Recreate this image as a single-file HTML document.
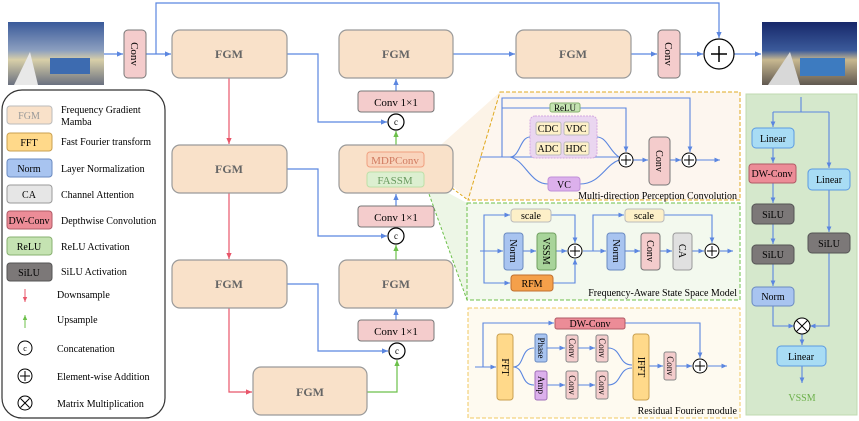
<!DOCTYPE html>
<html><head><meta charset="utf-8"><style>
html,body{margin:0;padding:0;background:#fff;}
svg{display:block;font-family:"Liberation Serif",serif;}
</style></head><body>
<svg width="859" height="421" viewBox="0 0 859 421" xmlns="http://www.w3.org/2000/svg">
<defs>
<marker id="ab" markerWidth="6" markerHeight="6" refX="5" refY="3" orient="auto"><path d="M0,0.8 L5,3 L0,5.2z" fill="#5b86e0"/></marker>
<marker id="ar" markerWidth="6" markerHeight="6" refX="5" refY="3" orient="auto"><path d="M0,0.8 L5,3 L0,5.2z" fill="#e8566a"/></marker>
<marker id="ag" markerWidth="6" markerHeight="6" refX="5" refY="3" orient="auto"><path d="M0,0.8 L5,3 L0,5.2z" fill="#6cc04a"/></marker>
<linearGradient id="inimg" x1="0" y1="0" x2="0" y2="1"><stop offset="0" stop-color="#3a5a9a"/><stop offset="0.45" stop-color="#8c9fbf"/><stop offset="0.6" stop-color="#d8cfa8"/><stop offset="1" stop-color="#6a7080"/></linearGradient>
<linearGradient id="outimg" x1="0" y1="0" x2="0" y2="1"><stop offset="0" stop-color="#17286a"/><stop offset="0.45" stop-color="#3b5a9a"/><stop offset="0.6" stop-color="#c8b890"/><stop offset="1" stop-color="#605850"/></linearGradient>
</defs>

<!-- wedges -->
<polygon points="424,160 500,92 500,200 468,200" fill="#fbeedd" opacity="0.7"/>
<polygon points="424,180 467,203 467,300" fill="#e6f2dc" opacity="0.7"/>
<line x1="424" y1="167" x2="468" y2="200" stroke="#e0a920" stroke-width="1" stroke-dasharray="3,2"/>
<line x1="424" y1="180" x2="467" y2="300" stroke="#6cc04a" stroke-width="1" stroke-dasharray="3,2"/>

<!-- images -->
<rect x="8" y="22" width="96" height="63" fill="url(#inimg)"/>
<polygon points="14,85 30,52 38,85" fill="#e8e8e8"/>
<rect x="50" y="58" width="40" height="16" fill="#3d6bb0"/>
<rect x="762" y="22" width="95" height="63" fill="url(#outimg)"/>
<polygon points="768,85 790,52 800,85" fill="#d8d8d8"/>
<rect x="800" y="58" width="45" height="18" fill="#3d7bc0"/>

<!-- main blue lines -->
<g stroke="#5b86e0" stroke-width="1.2" fill="none">
<line x1="104" y1="54" x2="123" y2="54" marker-end="url(#ab)"/>
<line x1="146" y1="54" x2="171" y2="54" marker-end="url(#ab)"/>
<polyline points="156,54 156,3 719,3 719,38" marker-end="url(#ab)"/>
<line x1="453" y1="54" x2="515" y2="54" marker-end="url(#ab)"/>
<line x1="631" y1="54" x2="657" y2="54" marker-end="url(#ab)"/>
<line x1="680" y1="54" x2="703" y2="54" marker-end="url(#ab)"/>
<line x1="734" y1="54" x2="761" y2="54" marker-end="url(#ab)"/>
<polyline points="287,54 318,54 318,122 387,122" marker-end="url(#ab)"/>
<polyline points="287,169 318,169 318,236 387,236" marker-end="url(#ab)"/>
<polyline points="287,284 318,284 318,351 388,351" marker-end="url(#ab)"/>
<line x1="396" y1="91" x2="396" y2="79" marker-end="url(#ab)"/>
<line x1="396" y1="206" x2="396" y2="194" marker-end="url(#ab)"/>
<line x1="396" y1="320" x2="396" y2="309" marker-end="url(#ab)"/>
</g>
<g stroke="#e8566a" stroke-width="1.2" fill="none">
<line x1="229" y1="78" x2="229" y2="144" marker-end="url(#ar)"/>
<line x1="229" y1="193" x2="229" y2="259" marker-end="url(#ar)"/>
<polyline points="229,308 229,392 252,392" marker-end="url(#ar)"/>
</g>
<g stroke="#6cc04a" stroke-width="1.2" fill="none">
<line x1="396" y1="145" x2="396" y2="131" marker-end="url(#ag)"/>
<line x1="396" y1="260" x2="396" y2="245" marker-end="url(#ag)"/>
<polyline points="367,392 397,392 397,360" marker-end="url(#ag)"/>
</g>

<!-- main blocks -->
<g stroke="#9a9a9a" stroke-width="1.2" fill="#f9e1c9">
<rect x="172" y="30" width="115" height="48" rx="8"/>
<rect x="339" y="30" width="114" height="48" rx="8"/>
<rect x="516" y="30" width="115" height="48" rx="8"/>
<rect x="172" y="145" width="115" height="48" rx="8"/>
<rect x="339" y="145" width="114" height="48" rx="8"/>
<rect x="172" y="260" width="115" height="48" rx="8"/>
<rect x="339" y="260" width="114" height="48" rx="8"/>
<rect x="253" y="367" width="114" height="48" rx="8"/>
</g>
<g font-size="12" fill="#666" text-anchor="middle" font-weight="bold">
<text x="229" y="58">FGM</text><text x="396" y="58">FGM</text><text x="573" y="58">FGM</text>
<text x="229" y="173">FGM</text><text x="229" y="288">FGM</text><text x="396" y="288">FGM</text><text x="310" y="396">FGM</text>
</g>
<rect x="367" y="152" width="57" height="15" rx="3" fill="#f9d4bc" stroke="#f0a080"/>
<text x="395" y="164" font-size="11" fill="#d07b60" text-anchor="middle">MDPConv</text>
<rect x="367" y="172" width="57" height="15" rx="3" fill="#dcefd0" stroke="#bde0a8"/>
<text x="395" y="184" font-size="11" fill="#6a9a60" text-anchor="middle">FASSM</text>

<g stroke="#777" stroke-width="1" fill="#f4cccc">
<rect x="124" y="30" width="22" height="48" rx="4"/>
<rect x="658" y="30" width="22" height="48" rx="4"/>
<rect x="358" y="91" width="76" height="21" rx="3"/>
<rect x="358" y="206" width="76" height="21" rx="3"/>
<rect x="358" y="320" width="76" height="21" rx="3"/>
</g>
<text transform="translate(131,54) rotate(90)" font-size="11" text-anchor="middle">Conv</text>
<text transform="translate(665,54) rotate(90)" font-size="11" text-anchor="middle">Conv</text>
<g font-size="11" text-anchor="middle"><text x="396" y="106">Conv 1×1</text><text x="396" y="221">Conv 1×1</text><text x="396" y="335">Conv 1×1</text></g>

<g stroke="#000" stroke-width="1.2" fill="#fff">
<circle cx="396" cy="122" r="8"/><circle cx="396" cy="236" r="8"/><circle cx="397" cy="351" r="8"/>
<circle cx="719" cy="54" r="15"/>
</g>
<g font-size="9" text-anchor="middle"><text x="396" y="125">c</text><text x="396" y="239">c</text><text x="397" y="354">c</text></g>
<path d="M711,54 H727 M719,46 V62" stroke="#000" stroke-width="1.5"/>

<!-- legend -->
<rect x="2" y="90" width="163" height="328" rx="20" fill="#fff" stroke="#333" stroke-width="1.2"/>
<g stroke-width="1">
<rect x="7" y="106" width="45" height="18" rx="3" fill="#f9e1c9" stroke="#bbb"/>
<rect x="7" y="133" width="45" height="18" rx="3" fill="#ffd98a" stroke="#c9a050"/>
<rect x="7" y="159" width="45" height="18" rx="3" fill="#a8c4f0" stroke="#6a8ac0"/>
<rect x="7" y="185" width="45" height="18" rx="3" fill="#e6e6e6" stroke="#999"/>
<rect x="7" y="211" width="45" height="18" rx="3" fill="#ec8c97" stroke="#b05a66"/>
<rect x="7" y="237" width="45" height="18" rx="3" fill="#c5e3b2" stroke="#88b070"/>
<rect x="7" y="263" width="45" height="18" rx="3" fill="#7c7878" stroke="#555"/>
</g>
<g font-size="10" text-anchor="middle">
<text x="29" y="119" fill="#999">FGM</text><text x="29" y="146">FFT</text><text x="29" y="172">Norm</text><text x="29" y="198">CA</text>
<text x="29" y="224">DW-Conv</text><text x="29" y="250">ReLU</text><text x="29" y="276">SiLU</text>
</g>
<g font-size="10">
<text x="61" y="113">Frequency Gradient</text><text x="61" y="125">Mamba</text>
<text x="61" y="145">Fast Fourier transform</text><text x="61" y="172">Layer Normalization</text>
<text x="61" y="198">Channel Attention</text><text x="61" y="224">Depthwise Convolution</text>
<text x="61" y="250">ReLU Activation</text><text x="61" y="275">SiLU Activation</text>
<text x="57" y="298">Downsample</text><text x="57" y="323">Upsample</text><text x="57" y="352">Concatenation</text>
<text x="57" y="380">Element-wise Addition</text><text x="57" y="407">Matrix Multiplication</text>
</g>
<line x1="25" y1="289" x2="25" y2="302" stroke="#e8566a" marker-end="url(#ar)"/>
<line x1="25" y1="328" x2="25" y2="315" stroke="#6cc04a" marker-end="url(#ag)"/>
<g stroke="#000" fill="#fff" stroke-width="1"><circle cx="25" cy="348" r="7"/><circle cx="25" cy="376" r="7"/><circle cx="25" cy="403" r="7"/></g>
<text x="25" y="351" font-size="8" text-anchor="middle">c</text>
<path d="M20,376 H30 M25,371 V381 M20.5,398.5 L29.5,407.5 M29.5,398.5 L20.5,407.5" stroke="#000"/>

<!-- MPC panel -->
<polygon points="500,92 740,92 740,200 468,200" fill="#fdf6ef" stroke="#e0a920" stroke-dasharray="4,2"/>
<g stroke="#5b86e0" stroke-width="1.1" fill="none">
<line x1="480" y1="157" x2="619" y2="157"/>
<polyline points="502,157 502,98 690,98 690,152" marker-end="url(#ab)"/>
<polyline points="502,108 626,108 626,152" marker-end="url(#ab)"/>
<path d="M510,157 C520,157 520,137 530,137"/>
<path d="M597,137 C607,137 610,152 619,157"/>
<path d="M510,157 C525,160 530,184 548,184"/>
<path d="M580,184 C600,184 605,165 619,160"/>
<line x1="633" y1="160" x2="648" y2="160" marker-end="url(#ab)"/>
<line x1="670" y1="160" x2="681" y2="160" marker-end="url(#ab)"/>
<line x1="696" y1="160" x2="720" y2="160" marker-end="url(#ab)"/>
</g>
<rect x="550" y="103" width="30" height="9" rx="2" fill="#c5e3b2" stroke="#88b070"/>
<text x="565" y="111" font-size="9" text-anchor="middle">ReLU</text>
<rect x="530" y="116" width="67" height="42" rx="5" fill="#ead6f0" stroke="#d4a8e0" stroke-dasharray="2,1"/>
<g fill="#fdf0c8" stroke="#bbb"><rect x="536" y="122" width="25" height="13" rx="2"/><rect x="564" y="122" width="25" height="13" rx="2"/><rect x="536" y="142" width="25" height="13" rx="2"/><rect x="564" y="142" width="25" height="13" rx="2"/></g>
<g font-size="10" text-anchor="middle"><text x="548" y="132">CDC</text><text x="576" y="132">VDC</text><text x="548" y="152">ADC</text><text x="576" y="152">HDC</text></g>
<rect x="548" y="177" width="32" height="14" rx="3" fill="#dcb0ec" stroke="#c090d8"/>
<text x="564" y="188" font-size="10" text-anchor="middle">VC</text>
<rect x="649" y="137" width="21" height="48" rx="4" fill="#f4cccc" stroke="#777"/>
<text transform="translate(656,161) rotate(90)" font-size="10" text-anchor="middle">Conv</text>
<g fill="#fff" stroke="#000"><circle cx="626" cy="160" r="7"/><circle cx="689" cy="160" r="7"/></g>
<path d="M621,160 H631 M626,155 V165 M684,160 H694 M689,155 V165" stroke="#000"/>
<text x="737" y="199" font-size="10" text-anchor="end">Multi-direction Perception Convolution</text>

<!-- FASSM panel -->
<rect x="467" y="203" width="273" height="97" fill="#f3f9ee" stroke="#6cc04a" stroke-dasharray="4,2"/>
<g stroke="#5b86e0" stroke-width="1.1" fill="none">
<line x1="480" y1="251" x2="503" y2="251" marker-end="url(#ab)"/>
<polyline points="484,251 484,215 510,215" marker-end="url(#ab)"/>
<polyline points="551,215 575,215 575,243" marker-end="url(#ab)"/>
<polyline points="484,251 484,283 510,283" marker-end="url(#ab)"/>
<polyline points="553,283 575,283 575,259" marker-end="url(#ab)"/>
<line x1="523" y1="251" x2="536" y2="251" marker-end="url(#ab)"/>
<line x1="556" y1="251" x2="567" y2="251" marker-end="url(#ab)"/>
<line x1="583" y1="251" x2="606" y2="251" marker-end="url(#ab)"/>
<polyline points="593,251 593,215 624,215" marker-end="url(#ab)"/>
<polyline points="664,215 712,215 712,243" marker-end="url(#ab)"/>
<line x1="625" y1="251" x2="640" y2="251" marker-end="url(#ab)"/>
<line x1="660" y1="251" x2="672" y2="251" marker-end="url(#ab)"/>
<line x1="692" y1="251" x2="704" y2="251" marker-end="url(#ab)"/>
<line x1="720" y1="251" x2="733" y2="251" marker-end="url(#ab)"/>
</g>
<g stroke-width="1">
<rect x="511" y="209" width="40" height="13" rx="3" fill="#fdf0c8" stroke="#bbb"/>
<rect x="625" y="209" width="39" height="13" rx="3" fill="#fdf0c8" stroke="#bbb"/>
<rect x="504" y="233" width="19" height="37" rx="3" fill="#a8c4f0" stroke="#6a8ac0"/>
<rect x="537" y="233" width="19" height="37" rx="3" fill="#a8d49a" stroke="#70a060"/>
<rect x="511" y="275" width="42" height="16" rx="3" fill="#f5a04a" stroke="#c07030"/>
<rect x="607" y="233" width="18" height="37" rx="3" fill="#a8c4f0" stroke="#6a8ac0"/>
<rect x="641" y="233" width="19" height="37" rx="3" fill="#f4cccc" stroke="#777"/>
<rect x="673" y="233" width="19" height="37" rx="3" fill="#e0e0e0" stroke="#999"/>
</g>
<g font-size="10" text-anchor="middle">
<text x="531" y="219">scale</text><text x="644" y="219">scale</text><text x="532" y="287">RFM</text>
<text transform="translate(510,251) rotate(90)">Norm</text>
<text transform="translate(543,251) rotate(90)">VSSM</text>
<text transform="translate(613,251) rotate(90)">Norm</text>
<text transform="translate(647,251) rotate(90)">Conv</text>
<text transform="translate(679,251) rotate(90)">CA</text>
</g>
<g fill="#fff" stroke="#000"><circle cx="575" cy="251" r="7"/><circle cx="712" cy="251" r="7"/></g>
<path d="M570,251 H580 M575,246 V256 M707,251 H717 M712,246 V256" stroke="#000"/>
<text x="737" y="296" font-size="10" text-anchor="end">Frequency-Aware State Space Model</text>

<!-- RFM panel -->
<rect x="468" y="308" width="272" height="110" fill="#fefaf0" stroke="#f0c860" stroke-dasharray="4,2"/>
<g stroke="#5b86e0" stroke-width="1.1" fill="none">
<line x1="475" y1="367" x2="496" y2="367" marker-end="url(#ab)"/>
<polyline points="483,367 483,323 554,323" marker-end="url(#ab)"/>
<polyline points="625,323 700,323 700,358" marker-end="url(#ab)"/>
<path d="M513,367 C525,367 520,348 534,348"/>
<path d="M513,367 C525,367 520,385 534,385"/>
<line x1="547" y1="348" x2="565" y2="348" marker-end="url(#ab)"/>
<line x1="578" y1="348" x2="595" y2="348" marker-end="url(#ab)"/>
<line x1="547" y1="385" x2="565" y2="385" marker-end="url(#ab)"/>
<line x1="578" y1="385" x2="595" y2="385" marker-end="url(#ab)"/>
<path d="M608,348 C622,348 618,365 632,365"/>
<path d="M608,385 C622,385 618,368 632,368"/>
<line x1="649" y1="366" x2="663" y2="366" marker-end="url(#ab)"/>
<line x1="676" y1="366" x2="692" y2="366" marker-end="url(#ab)"/>
<line x1="708" y1="366" x2="727" y2="366" marker-end="url(#ab)"/>
</g>
<rect x="555" y="318" width="70" height="11" rx="2" fill="#ec8c97" stroke="#b05a66"/>
<text x="590" y="327" font-size="10" text-anchor="middle">DW-Conv</text>
<rect x="497" y="334" width="16" height="66" rx="3" fill="#ffd98a" stroke="#c9a050"/>
<rect x="633" y="334" width="16" height="66" rx="3" fill="#ffd98a" stroke="#c9a050"/>
<rect x="535" y="334" width="12" height="28" rx="2" fill="#a8c4f0" stroke="#6a8ac0"/>
<rect x="535" y="371" width="12" height="29" rx="2" fill="#dcb0ec" stroke="#a070b8"/>
<g fill="#f4cccc" stroke="#888">
<rect x="566" y="335" width="12" height="27" rx="2"/><rect x="596" y="335" width="12" height="27" rx="2"/>
<rect x="566" y="371" width="12" height="28" rx="2"/><rect x="596" y="371" width="12" height="28" rx="2"/>
<rect x="664" y="352" width="12" height="28" rx="2"/>
</g>
<g font-size="9" text-anchor="middle">
<text transform="translate(502,367) rotate(90)" font-size="10">FFT</text>
<text transform="translate(638,367) rotate(90)" font-size="10">IFFT</text>
<text transform="translate(538,348) rotate(90)">Phase</text>
<text transform="translate(538,385) rotate(90)">Amp</text>
<text transform="translate(569,348) rotate(90)">Conv</text><text transform="translate(599,348) rotate(90)">Conv</text>
<text transform="translate(569,385) rotate(90)">Conv</text><text transform="translate(599,385) rotate(90)">Conv</text>
<text transform="translate(667,366) rotate(90)">Conv</text>
</g>
<circle cx="700" cy="366" r="7" fill="#fff" stroke="#000"/>
<path d="M695,366 H705 M700,361 V371" stroke="#000"/>
<text x="737" y="414" font-size="10" text-anchor="end">Residual Fourier module</text>

<!-- VSSM panel -->
<rect x="746" y="94" width="111" height="321" fill="#d5e8cc" stroke="#c0dab0"/>
<g stroke="#5b86e0" stroke-width="1.1" fill="none">
<polyline points="801,97 801,112"/>
<line x1="773" y1="112" x2="829" y2="112"/>
<line x1="773" y1="112" x2="773" y2="127" marker-end="url(#ab)"/>
<line x1="829" y1="112" x2="829" y2="168" marker-end="url(#ab)"/>
<line x1="773" y1="148" x2="773" y2="163" marker-end="url(#ab)"/>
<line x1="773" y1="183" x2="773" y2="203" marker-end="url(#ab)"/>
<line x1="773" y1="224" x2="773" y2="244" marker-end="url(#ab)"/>
<line x1="773" y1="264" x2="773" y2="286" marker-end="url(#ab)"/>
<line x1="829" y1="190" x2="829" y2="232" marker-end="url(#ab)"/>
<polyline points="773,306 773,326 794,326" marker-end="url(#ab)"/>
<polyline points="829,253 829,326 810,326" marker-end="url(#ab)"/>
<line x1="802" y1="334" x2="802" y2="345" marker-end="url(#ab)"/>
<line x1="802" y1="366" x2="802" y2="383" marker-end="url(#ab)"/>
</g>
<g stroke-width="1">
<rect x="752" y="128" width="42" height="20" rx="4" fill="#a8dcf4" stroke="#5b9ae0"/>
<rect x="749" y="164" width="47" height="19" rx="3" fill="#ec8c97" stroke="#b05a66"/>
<rect x="752" y="204" width="42" height="20" rx="4" fill="#7c7878" stroke="#555"/>
<rect x="752" y="245" width="42" height="19" rx="4" fill="#7c7878" stroke="#555"/>
<rect x="752" y="287" width="42" height="19" rx="4" fill="#a8c4f0" stroke="#6a8ac0"/>
<rect x="808" y="169" width="42" height="21" rx="4" fill="#a8dcf4" stroke="#5b9ae0"/>
<rect x="808" y="233" width="42" height="20" rx="4" fill="#7c7878" stroke="#555"/>
<rect x="777" y="346" width="49" height="20" rx="4" fill="#a8dcf4" stroke="#5b9ae0"/>
</g>
<g font-size="10" text-anchor="middle">
<text x="773" y="142">Linear</text><text x="772" y="177">DW-Conv</text><text x="773" y="218">SiLU</text>
<text x="773" y="258">SiLU</text><text x="773" y="300">Norm</text><text x="829" y="183">Linear</text>
<text x="829" y="247">SiLU</text><text x="801" y="360">Linear</text>
</g>
<circle cx="802" cy="326" r="8" fill="#fff" stroke="#000"/>
<path d="M796.5,320.5 L807.5,331.5 M807.5,320.5 L796.5,331.5" stroke="#000"/>
<text x="802" y="401" font-size="10" fill="#6cb04a" text-anchor="middle">VSSM</text>
</svg>
</body></html>
